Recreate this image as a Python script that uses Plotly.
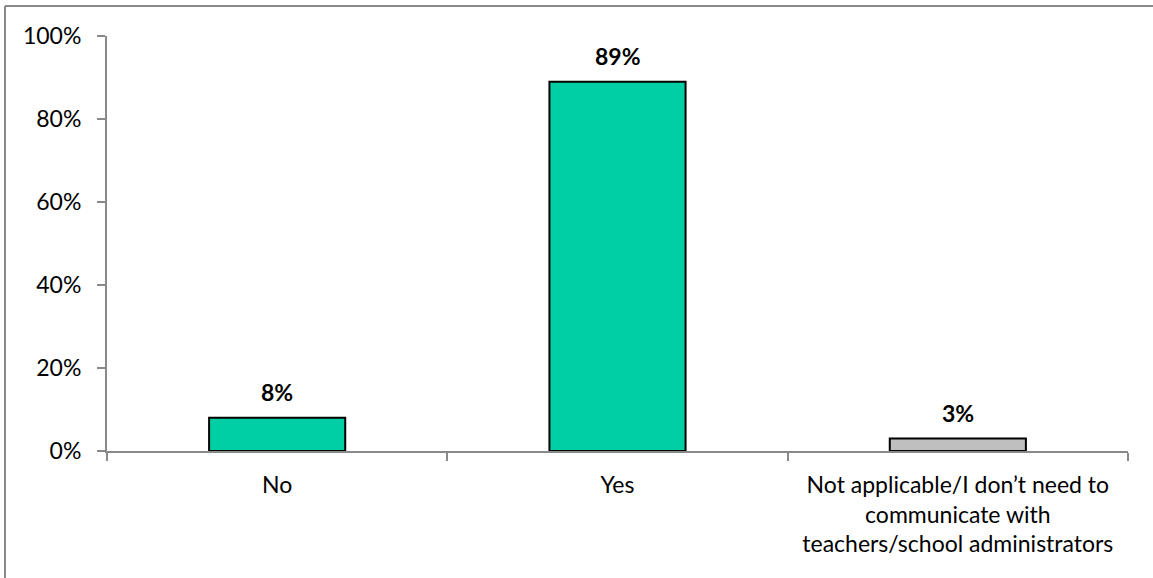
import plotly.graph_objects as go

categories = ["No", "Yes", "Not applicable/I don’t need to<br>communicate with<br>teachers/school administrators"]
values = [8, 89, 3]
colors = ["#00CFA5", "#00CFA5", "#BFBFBF"]
label_texts = ["8%", "89%", "3%"]
y_ticks = [0, 20, 40, 60, 80, 100]
y_tick_labels = ["0%", "20%", "40%", "60%", "80%", "100%"]

FONT = "Lato, 'Open Sans', sans-serif"
FS = 23

fig = go.Figure(go.Bar(
    x=categories,
    y=values,
    marker=dict(color=colors, line=dict(color="black", width=2)),
    cliponaxis=False,
    hoverinfo="x+y",
))

for c, v, t in zip(categories, values, label_texts):
    fig.add_annotation(x=c, y=v, text=t, showarrow=False, yanchor="middle", yshift=26,
                       font=dict(family=FONT, size=FS, color="black", weight="bold"))

fig.update_layout(
    width=1153, height=578,
    margin=dict(l=107, r=25, t=36, b=127),
    paper_bgcolor="white", plot_bgcolor="white",
    bargap=0.6,
    showlegend=False,
    font=dict(family=FONT, size=FS, color="black"),
)
fig.update_xaxes(
    showline=True, linecolor="#898989", linewidth=2,
    ticks="outside", tickson="boundaries", ticklen=8, tickcolor="#898989", tickwidth=2,
    ticklabelstandoff=12,
    showgrid=False, tickfont=dict(family=FONT, size=FS, color="black"),
)
fig.update_yaxes(
    range=[0, 100], tickvals=y_ticks, ticktext=y_tick_labels,
    showline=True, linecolor="#898989", linewidth=2,
    ticks="outside", ticklen=8, tickcolor="#898989", tickwidth=2,
    ticklabelstandoff=11,
    showgrid=False, zeroline=False, tickfont=dict(family=FONT, size=FS, color="black"),
)

# outer border (top and left only visible)
fig.add_shape(type="line", xref="paper", yref="paper", x0=-0.0999, x1=1.03, y0=1.0723, y1=1.0723,
              line=dict(color="#898989", width=2))
fig.add_shape(type="line", xref="paper", yref="paper", x0=-0.0999, x1=-0.0999, y0=1.0723, y1=-0.32,
              line=dict(color="#898989", width=2))

fig.write_html("out.html", config={"displayModeBar": False},
               post_script="document.body.style.margin='0';")
